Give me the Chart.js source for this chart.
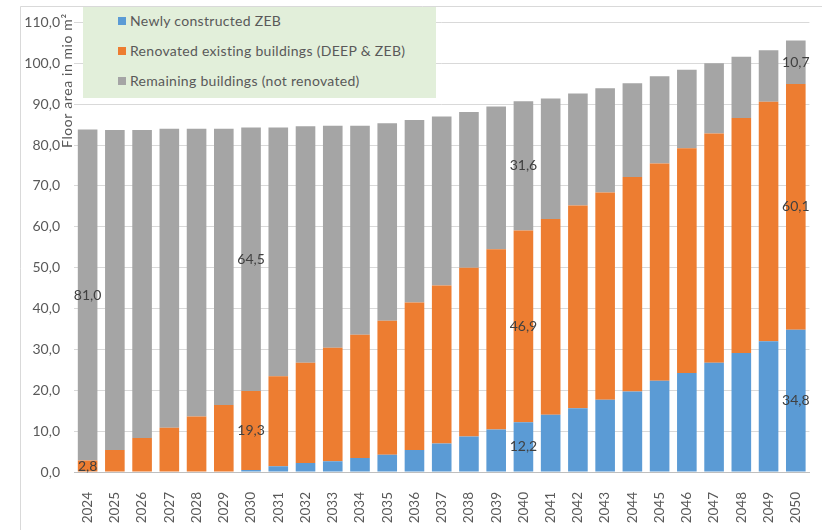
<!DOCTYPE html>
<html>
<head>
<meta charset="utf-8">
<script src="https://cdn.jsdelivr.net/npm/chart.js@4.4.0/dist/chart.umd.min.js"></script>
<style>
    html, body { margin: 0; padding: 0; background: #fff; overflow: hidden; }
    #marco { position: relative; width: 822px; height: 530px; overflow: hidden; }
    #grafico { position: absolute; left: 0; top: 0; }
    #leyenda { position: absolute; left: 83px; top: 7px; width: 353px; height: 91px; background: #e2efda;
               font-family: Lato, "Open Sans", sans-serif; font-size: 14px; letter-spacing: 0.3px; color: #595959; }
    .item { position: absolute; left: 35px; height: 16px; line-height: 16px; white-space: nowrap; }
    .cuadro { position: absolute; left: 0; top: 4px; width: 8px; height: 8px; }
    .texto { position: absolute; left: 12px; top: 0; }
</style>
</head>
<body>
<div id="marco">
    <canvas id="grafico" width="824" height="530"></canvas>
    <div id="leyenda"></div>
</div>
<script>
        const anios = ['2024', '2025', '2026', '2027', '2028', '2029', '2030', '2031', '2032', '2033',
                       '2034', '2035', '2036', '2037', '2038', '2039', '2040', '2041', '2042', '2043',
                       '2044', '2045', '2046', '2047', '2048', '2049', '2050'];
        const nuevosZEB = [0, 0, 0, 0, 0, 0, 0.5, 1.4, 2.2, 2.6,
                           3.4, 4.2, 5.4, 7.0, 8.7, 10.4, 12.2, 14.0, 15.6, 17.7,
                           19.7, 22.3, 24.2, 26.7, 29.1, 32.0, 34.8];
        const renovados = [2.8, 5.4, 8.3, 10.8, 13.6, 16.4, 19.3, 22.0, 24.5, 27.8,
                           30.2, 32.8, 36.1, 38.6, 41.3, 44.1, 46.9, 47.9, 49.6, 50.7,
                           52.5, 53.2, 55.0, 56.1, 57.5, 58.6, 60.1];
        const restantes = [81.0, 78.3, 75.4, 73.2, 70.4, 67.6, 64.5, 60.9, 57.9, 54.3,
                           51.1, 48.3, 44.6, 41.4, 38.1, 34.9, 31.6, 29.5, 27.4, 25.5,
                           22.9, 21.3, 19.2, 17.2, 15.0, 12.6, 10.7];
        const aniosConEtiqueta = ['2024', '2030', '2040', '2050'];
        const nombresSeries = ['Newly constructed ZEB', 'Renovated existing buildings (DEEP & ZEB)', 'Remaining buildings (not renovated)'];
        const coloresSeries = ['#5b9bd5', '#ed7d31', '#a5a5a5'];
        const tituloEjeY = 'Floor area in mio m²';

        const fuente = 'Lato, "Open Sans", sans-serif';

        function formato(v) {
            return v.toFixed(1).replace('.', ',');
        }

        // leyenda en html, encima del gráfico
        const leyenda = document.getElementById('leyenda');
        nombresSeries.forEach((nombre, i) => {
            const item = document.createElement('div');
            item.className = 'item';
            item.style.top = (6 + i * 30) + 'px';
            item.innerHTML = '<span class="cuadro" style="background:' + coloresSeries[i] + '"></span><span class="texto"></span>';
            item.querySelector('.texto').textContent = nombre;
            leyenda.appendChild(item);
        });

        const fondoYMarco = {
            id: 'fondoYMarco',
            beforeDraw(chart) {
                const c = chart.ctx;
                c.save();
                c.fillStyle = '#fff';
                c.fillRect(0, 0, chart.width, chart.height);
                c.strokeStyle = '#d9d9d9';
                c.lineWidth = 1;
                c.beginPath();
                c.moveTo(20.5, chart.height);
                c.lineTo(20.5, 6.5);
                c.lineTo(chart.width, 6.5);
                c.stroke();
                c.restore();
            }
        };

        const etiquetasDatos = {
            id: 'etiquetasDatos',
            afterDatasetsDraw(chart) {
                const c = chart.ctx;
                c.save();
                c.font = '14px ' + fuente;
                c.fillStyle = '#404040';
                c.textAlign = 'center';
                c.textBaseline = 'middle';
                chart.data.datasets.forEach((ds, i) => {
                    const meta = chart.getDatasetMeta(i);
                    meta.data.forEach((barra, j) => {
                        if (!aniosConEtiqueta.includes(anios[j])) return;
                        const v = ds.data[j];
                        if (v < 1) return;
                        const txt = formato(v);
                        const w = c.measureText(txt).width;
                        const x = Math.min(barra.x, 819 - w / 2);
                        c.fillText(txt, x, (barra.y + barra.base) / 2);
                    });
                });
                c.restore();
            },
            afterDraw(chart) {
                const c = chart.ctx;
                c.save();
                c.font = '14px ' + fuente;
                c.letterSpacing = '0.6px';
                c.fillStyle = '#595959';
                c.translate(67, 148);
                c.rotate(-Math.PI / 2);
                c.textAlign = 'left';
                c.textBaseline = 'middle';
                c.fillText(tituloEjeY, 0, 0);
                c.restore();
            }
        };

        const ctx = document.getElementById('grafico').getContext('2d');
        const grafico = new Chart(ctx, {
            type: 'bar',
            data: {
                labels: anios,
                datasets: [nuevosZEB, renovados, restantes].map((datos, i) => ({
                    label: nombresSeries[i],
                    data: datos,
                    backgroundColor: coloresSeries[i],
                    borderWidth: 0,
                    barPercentage: 0.72,
                    categoryPercentage: 1
                }))
            },
            options: {
                responsive: false,
                animation: false,
                layout: { padding: { top: 19, left: 0, right: 0, bottom: 0 } },
                plugins: {
                    legend: { display: false },
                    tooltip: { enabled: false }
                },
                scales: {
                    x: {
                        stacked: true,
                        grid: { display: false },
                        border: { color: '#bfbfbf' },
                        ticks: {
                            color: '#595959',
                            font: { family: fuente, size: 13.5 },
                            minRotation: 90,
                            maxRotation: 90,
                            autoSkip: false,
                            padding: 12
                        },
                        afterFit(scale) { scale.height = 58; }
                    },
                    y: {
                        stacked: true,
                        min: 0,
                        max: 110,
                        grid: { color: '#d9d9d9', drawTicks: false },
                        border: { display: false },
                        ticks: {
                            stepSize: 10,
                            color: '#595959',
                            font: { family: fuente, size: 14 },
                            padding: 14,
                            callback: v => formato(v)
                        },
                        afterFit(scale) { scale.width = 74; }
                    }
                }
            },
            plugins: [fondoYMarco, etiquetasDatos]
        });
</script>
</body>
</html>
